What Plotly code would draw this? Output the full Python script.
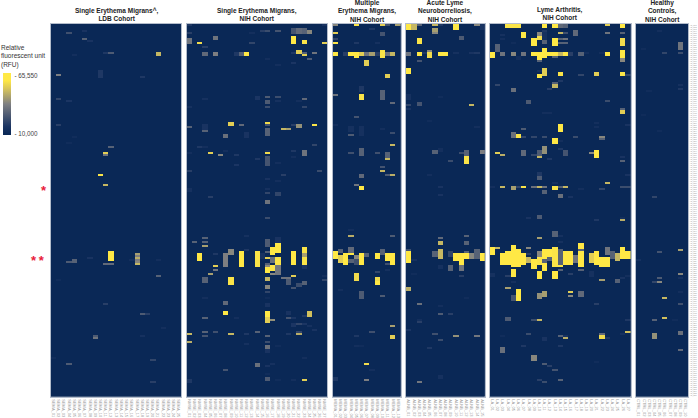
import numpy as np
import plotly.graph_objects as go

W, H = 698, 418
N_ROWS = 186
ROW_LABELS = [f"Ag_{i+1:03d}" for i in range(N_ROWS)]

# each mark: (sample column, first antigen row, last antigen row, RFU)
SEMA_LDB = [
(3,4,4,25000),(6,3,3,16000),(6,7,7,30000),(7,8,8,16000),(4,15,15,14000),(10,14,14,18000),(11,14,14,28000),
(20,14,15,50000),(1,25,25,38000),(9,23,26,18000),(17,26,26,18000),(1,37,37,22000),(3,38,38,17000),(1,50,50,20000),
(4,56,56,13000),(3,59,59,13000),(11,61,61,30000),(10,64,64,55000),(10,65,65,35000),(9,75,75,60000),(10,80,80,50000),
(16,114,114,45000),(16,115,115,38000),(16,116,116,48000),(16,117,117,38000),(16,118,118,40000),(16,119,119,50000),
(11,113,117,64000),(10,119,119,32000),(11,119,119,32000),(4,117,118,30000),(3,118,118,28000),(7,116,116,16000),
(15,117,117,14000),(20,117,117,14000),(20,125,125,30000),(1,127,127,13000),(10,139,139,20000),(17,144,144,28000),(18,144,144,20000),
(8,155,155,28000),(8,156,156,35000),(17,155,155,15000),(21,151,151,14000),(0,166,166,13000),(3,169,169,28000),
(19,167,167,22000),(19,178,178,20000),
]
NMSE = [
(0,0,0,18000),(26,0,0,16000),(0,4,4,20000),(0,7,9,35000),(2,9,9,58000),(5,6,7,35000),(3,11,11,20000),(3,14,15,32000),
(5,14,15,38000),(9,14,15,18000),(10,14,15,30000),(11,14,15,62000),(12,9,9,22000),(12,4,4,14000),(14,3,3,20000),(15,3,3,24000),
(17,3,3,26000),(20,2,4,26000),(21,2,4,32000),(22,2,4,30000),(23,3,4,40000),(20,6,9,62000),(22,8,9,60000),(26,9,9,55000),
(20,14,14,18000),(21,13,14,55000),(22,15,15,55000),(22,14,14,30000),(24,14,14,35000),(23,17,17,28000),(20,19,19,17000),
(15,17,17,14000),(17,20,20,14000),(0,41,41,15000),(3,37,37,15000),(13,36,37,17000),(15,36,36,28000),(15,38,39,28000),
(15,41,41,24000),(17,36,36,24000),(17,38,38,15000),(22,37,37,32000),(22,41,41,22000),(21,38,38,14000),(0,51,51,30000),
(3,50,52,16000),(3,53,53,30000),(8,49,50,55000),(10,50,50,32000),(15,49,49,58000),(15,50,50,26000),(15,52,55,30000),
(18,52,52,50000),(19,52,52,45000),(20,50,50,20000),(21,50,51,42000),(24,50,50,60000),(7,55,56,34000),(11,54,56,16000),
(2,61,61,18000),(3,61,61,14000),(0,64,64,14000),(4,64,64,55000),(6,65,65,40000),(7,63,63,14000),(9,65,65,18000),(9,70,70,17000),
(13,67,67,18000),(15,63,63,15000),(15,64,64,58000),(15,66,70,26000),(17,69,69,14000),(20,63,63,18000),(20,66,66,14000),
(22,63,65,35000),(24,60,60,22000),(18,75,75,20000),(25,73,73,24000),(0,73,73,20000),(0,82,83,15000),(4,86,86,20000),
(15,77,77,16000),(15,82,82,15000),(15,84,84,22000),(15,88,89,35000),(15,96,96,24000),(17,78,78,14000),(17,84,85,22000),
(11,105,105,15000),(1,108,108,30000),(3,106,106,30000),(3,108,108,30000),(3,110,110,45000),(2,114,117,62000),(5,114,114,18000),
(5,120,120,55000),(5,122,122,35000),(4,124,124,45000),(3,126,128,30000),(7,114,120,38000),(8,112,114,40000),(8,126,129,60000),
(10,113,120,63000),(11,112,112,18000),(13,113,120,60000),(14,114,116,16000),(15,107,110,28000),(15,113,113,30000),(15,116,116,55000),
(15,119,119,30000),(15,120,120,40000),(15,121,123,62000),(15,126,127,50000),(15,130,131,40000),(15,133,133,22000),(15,143,145,62000),
(15,146,148,55000),(16,111,114,62000),(16,116,118,34000),(16,120,122,60000),(16,124,124,40000),(16,147,147,42000),(17,106,108,16000),
(17,109,113,62000),(17,116,119,60000),(17,120,124,36000),(18,126,126,35000),(19,126,126,35000),(19,127,129,28000),(20,113,119,62000),
(20,125,125,55000),(20,131,131,26000),(21,129,130,24000),(22,128,129,30000),(22,111,113,60000),(22,114,115,45000),(22,116,119,60000),
(22,120,121,16000),(26,127,127,22000),(26,125,125,14000),(7,138,139,32000),(7,143,144,62000),(3,136,136,14000),(23,143,145,52000),
(22,145,145,18000),(19,143,144,16000),(15,136,136,13000),(15,139,140,16000),(19,146,146,26000),(20,146,146,17000),(3,146,146,30000),
(9,146,146,14000),(20,149,150,17000),(21,149,149,22000),(22,149,149,17000),(23,150,150,15000),(0,154,154,50000),(0,158,158,48000),
(3,153,153,30000),(3,155,155,26000),(5,153,153,25000),(8,154,154,50000),(11,154,154,18000),(13,153,153,30000),(15,155,155,30000),
(15,158,158,24000),(15,160,161,34000),(15,162,163,16000),(19,154,154,18000),(21,154,154,48000),(21,153,153,22000),(24,152,152,16000),
(11,159,159,15000),(17,160,160,13000),(13,169,170,34000),(15,170,170,16000),(16,169,169,15000),(7,172,172,26000),(15,174,174,13000),
(15,176,177,28000),(0,177,178,18000),(22,177,177,55000),(20,177,177,14000),(17,177,177,13000),(22,166,166,14000),
]
MEMA = [
(4,0,0,60000),(0,0,0,40000),(0,4,4,55000),(0,7,7,22000),(0,9,9,60000),(0,14,15,62000),(0,35,35,35000),(0,50,50,14000),
(9,0,0,55000),(12,0,0,45000),(10,0,0,25000),(7,2,2,18000),(9,4,5,26000),(4,9,9,18000),(8,9,9,15000),(3,14,15,63000),(4,14,16,63000),
(5,14,15,55000),(6,14,15,35000),(7,14,15,45000),(8,14,15,20000),(9,13,16,60000),(10,14,15,35000),(11,14,15,50000),(2,14,15,20000),
(6,18,20,55000),(10,25,26,55000),(5,31,33,18000),(5,35,37,60000),(9,33,37,30000),(11,39,39,32000),(4,46,46,26000),(3,51,53,15000),
(3,55,55,28000),(5,51,55,15000),(9,52,52,14000),(11,54,54,24000),(11,60,60,50000),(3,64,64,25000),(5,62,65,30000),(8,64,64,25000),
(10,64,66,30000),(10,67,67,50000),(9,71,71,26000),(9,73,73,50000),(10,75,75,28000),(11,75,75,48000),(5,75,76,32000),(4,80,80,35000),
(5,81,82,62000),(3,102,102,14000),(3,105,105,48000),(11,105,105,28000),(0,113,116,62000),(1,112,113,30000),(1,115,118,55000),
(2,114,119,62000),(3,111,113,32000),(3,114,114,62000),(3,117,118,30000),(4,115,116,40000),(4,117,119,25000),(5,114,119,63000),
(6,114,115,30000),(8,114,116,62000),(9,112,114,30000),(10,114,117,62000),(10,119,119,25000),(10,122,122,15000),(11,114,119,62000),
(4,124,127,58000),(8,126,127,58000),(8,128,129,62000),(8,123,123,22000),(5,133,136,28000),(9,135,135,28000),(1,132,132,14000),
(11,150,150,45000),(11,155,156,55000),(7,153,153,25000),(4,155,155,18000),(4,160,160,14000),(5,160,160,13000),(6,169,169,58000),
(7,172,172,14000),(6,177,177,38000),(0,176,177,18000),
]
ALNB = [
(0,0,2,62000),(1,0,2,50000),(2,0,0,30000),(5,0,0,50000),(5,2,3,45000),(5,4,4,40000),(9,0,2,62000),(10,6,7,28000),(13,0,0,40000),
(14,0,2,16000),(6,0,0,18000),(2,7,9,60000),(0,14,15,35000),(2,14,15,62000),(2,18,18,26000),(4,14,16,58000),(4,13,13,40000),(3,14,14,18000),
(6,14,15,62000),(7,14,15,62000),(9,14,14,15000),(12,14,14,16000),(13,14,14,18000),(0,22,24,62000),(0,35,37,15000),(0,40,40,22000),
(0,42,42,16000),(2,39,40,26000),(6,36,36,13000),(12,40,40,50000),(4,48,48,13000),(13,51,51,14000),(5,63,64,30000),(6,62,63,14000),
(8,68,68,24000),(11,63,65,30000),(11,66,69,60000),(10,64,64,24000),(14,63,64,38000),(4,75,75,14000),(6,81,81,16000),(6,85,85,16000),
(6,106,106,32000),(6,108,109,50000),(11,105,105,30000),(11,108,109,30000),(0,113,118,62000),(0,112,112,25000),(1,117,117,15000),
(5,113,115,30000),(6,112,116,50000),(8,113,115,22000),(8,120,122,30000),(9,114,117,62000),(10,114,119,62000),(10,120,122,35000),
(11,114,116,62000),(11,113,113,30000),(12,114,116,40000),(13,112,116,30000),(14,114,117,62000),(10,125,125,20000),(6,120,121,15000),
(1,124,124,13000),(0,131,132,48000),(2,139,139,34000),(6,140,140,14000),(6,144,144,28000),(8,144,144,20000),(11,136,136,13000),
(2,147,147,14000),(2,148,148,20000),(0,152,152,17000),(5,154,154,25000),(6,157,157,24000),(9,155,155,42000),(13,155,155,36000),
(4,161,161,18000),(6,175,176,15000),(2,178,178,36000),
]
LA = [
(3,0,1,60000),(4,0,1,60000),(5,0,1,60000),(10,0,1,62000),(12,0,1,62000),(13,0,1,32000),(14,0,1,30000),(22,0,0,55000),(25,0,1,62000),
(6,4,6,62000),(9,4,5,40000),(9,6,7,58000),(10,3,3,18000),(10,4,7,15000),(13,4,4,50000),(13,7,7,30000),(13,9,9,30000),(14,4,4,25000),
(14,7,7,35000),(14,9,9,30000),(16,3,5,32000),(2,5,5,15000),(2,7,7,14000),(1,10,12,30000),(8,7,10,62000),(12,7,10,62000),(10,8,9,30000),
(22,4,4,35000),(25,4,4,30000),(25,7,10,58000),(4,9,9,13000),(0,14,16,62000),(2,14,15,35000),(4,14,15,40000),(6,14,15,35000),
(8,14,15,62000),(9,14,17,62000),(9,18,18,30000),(10,12,16,62000),(11,14,15,62000),(12,14,15,62000),(12,16,16,30000),(13,14,15,50000),
(14,14,15,62000),(15,14,15,20000),(17,14,15,30000),(18,14,14,14000),(22,14,15,62000),(25,13,16,62000),(25,17,18,40000),(21,14,14,14000),
(1,13,13,30000),(5,16,17,14000),(9,23,23,15000),(9,25,26,62000),(10,22,25,55000),(13,24,25,60000),(17,25,25,22000),(20,24,25,55000),
(25,24,25,60000),(26,25,25,22000),(12,29,29,30000),(12,30,31,50000),(13,28,28,18000),(11,32,32,20000),(1,30,30,22000),(4,32,33,34000),
(7,38,39,28000),(22,38,38,24000),(25,42,42,30000),(25,43,44,55000),(10,44,44,14000),(11,44,44,14000),(13,50,53,62000),(20,49,49,14000),
(20,51,51,14000),(26,50,50,16000),(6,52,52,28000),(4,54,56,34000),(5,55,56,60000),(6,56,56,22000),(8,56,56,22000),(10,56,56,24000),
(12,57,59,62000),(13,58,58,14000),(16,56,56,24000),(21,56,56,40000),(21,57,57,30000),(1,64,64,55000),(2,65,65,48000),(6,63,65,32000),
(8,65,65,22000),(9,63,65,28000),(9,66,66,50000),(10,61,64,42000),(11,67,67,18000),(13,62,62,18000),(14,63,65,26000),(19,64,64,40000),
(20,63,66,62000),(25,66,66,16000),(25,68,68,30000),(26,75,75,16000),(9,74,75,18000),(9,76,77,28000),(0,81,81,14000),(2,81,81,50000),
(4,81,82,45000),(5,81,81,22000),(6,81,81,60000),(8,81,81,34000),(9,81,81,50000),(10,81,81,35000),(10,83,84,30000),(12,81,82,60000),
(13,81,81,30000),(14,81,81,50000),(12,79,79,15000),(13,85,86,34000),(15,86,86,16000),(17,82,82,14000),(21,82,82,22000),(22,79,79,50000),
(25,81,81,24000),(26,81,81,24000),(7,96,96,16000),(9,95,96,28000),(20,97,97,18000),(25,97,97,48000),(25,96,96,14000),(12,103,105,30000),
(9,106,106,45000),(13,105,105,15000),(0,111,114,62000),(1,111,111,50000),(2,114,119,62000),(3,113,119,62000),(4,110,120,62000),
(5,112,120,62000),(6,114,119,62000),(7,111,111,40000),(7,114,114,20000),(7,116,118,50000),(8,117,121,62000),(9,113,115,40000),
(9,116,119,60000),(10,112,116,62000),(10,117,118,30000),(11,112,115,62000),(11,116,117,30000),(12,111,120,60000),(13,108,108,15000),
(13,112,119,30000),(13,120,120,60000),(13,122,122,30000),(14,113,119,62000),(15,113,119,62000),(16,115,118,35000),(17,109,111,62000),
(17,112,112,30000),(17,113,120,62000),(17,122,122,30000),(19,114,118,55000),(20,113,119,62000),(21,116,120,62000),(22,111,114,35000),
(22,116,120,62000),(23,113,116,30000),(24,114,117,50000),(25,111,116,62000),(26,113,116,62000),(4,122,125,62000),(3,125,125,20000),
(9,123,126,62000),(10,119,122,62000),(12,123,126,62000),(4,128,128,15000),(3,131,131,45000),(5,132,137,62000),(4,135,137,26000),
(10,133,135,45000),(9,134,136,42000),(15,133,133,55000),(15,135,135,40000),(17,133,135,32000),(21,127,127,45000),(24,127,128,30000),
(25,126,126,16000),(26,125,125,14000),(20,139,139,20000),(15,124,124,20000),(0,124,125,15000),(19,123,125,15000),(3,146,147,28000),
(8,147,147,24000),(9,147,147,50000),(26,147,147,18000),(7,154,154,24000),(13,155,155,30000),(14,155,155,16000),(14,156,156,48000),
(10,156,157,16000),(21,154,154,32000),(21,155,156,58000),(22,156,156,18000),(26,153,153,52000),(25,154,154,15000),(2,161,163,34000),
(6,160,160,18000),(13,160,160,18000),(8,165,167,40000),(10,169,169,28000),(11,170,170,20000),(12,172,172,26000),(9,177,177,20000),
(10,178,178,24000),(13,177,177,30000),(2,155,155,13000),(20,168,168,13000),
]
CTRL = [
(4,3,3,14000),(8,9,12,35000),(8,14,14,24000),(1,12,12,13000),(5,14,14,22000),(8,30,30,15000),(8,32,32,18000),(2,33,33,13000),
(1,45,45,12500),(4,53,53,13000),(3,86,86,22000),(4,113,113,26000),(8,112,112,45000),(0,117,117,15000),(8,124,124,40000),(8,126,126,15000),
(4,126,126,28000),(3,128,128,22000),(4,128,128,40000),(5,136,136,50000),(8,133,133,14000),(8,139,139,25000),(3,147,147,30000),
(5,146,146,52000),(7,147,147,13000),(3,154,156,42000),(8,153,154,34000),(8,162,162,32000),
]

PREFIXES = ["SEMA", "NMSE", "MEMA", "ALNB", "LA", "CTRL"]
COUNTS = [25, 27, 13, 15, 27, 10]
PANEL_MARKS = [SEMA_LDB, NMSE, MEMA, ALNB, LA, CTRL]
PANEL_PX = [(50.7, 181.3), (186.7, 327.3), (332.7, 400.7), (406, 484.7), (489.7, 630.7), (636, 688.3)]
TOP_PX, BOTTOM_PX = 24, 396.5
TITLES = ["Single Erythema Migrans^,<br>LDB Cohort", "Single Erythema Migrans,<br>NIH Cohort",
          "Multiple<br>Erythema Migrans,<br>NIH Cohort", "Acute Lyme<br>Neuroborreliosis,<br>NIH Cohort",
          "Lyme Arthritis,<br>NIH Cohort", "Healthy<br>Controls,<br>NIH Cohort"]
TITLE_BOTTOM = [23, 23, 23.5, 23.5, 22, 23.5]
TICK_RFU = [10000, 65550]
TICK_RFU_TEXT = ["\u00a0- 10,000", "\u00a0- 65,550"]

fig = go.Figure()
for i, (pre, n, marks, (x0, x1)) in enumerate(zip(PREFIXES, COUNTS, PANEL_MARKS, PANEL_PX)):
    z = np.full((N_ROWS, n), 10000.0)
    for c, r0, r1, v in marks:
        z[r0:r1 + 1, c] = v
    cols = [f"{pre}_{k+1:02d}" for k in range(n)]
    sfx = "" if i == 0 else str(i + 1)
    fig.add_trace(go.Heatmap(z=z, x=cols, y=ROW_LABELS, coloraxis="coloraxis", xaxis="x" + sfx, yaxis="y" + sfx,
                             xgap=0, ygap=0))
    last = i == len(PREFIXES) - 1
    fig.layout["xaxis" + sfx] = dict(domain=[x0 / W, x1 / W], anchor="y" + sfx, type="category", tickmode="array", tickvals=cols,
                                     ticktext=cols, tickangle=90, tickfont=dict(size=4, color="#9a9a9a", family="Liberation Sans"),
                                     ticks="", showline=True, mirror=True, linecolor="#b3bccb", linewidth=1, showgrid=False,
                                     zeroline=False, ticklabelstandoff=1)
    fig.layout["yaxis" + sfx] = dict(domain=[1 - BOTTOM_PX / H, 1 - TOP_PX / H], anchor="x" + sfx, type="category",
                                     autorange="reversed", side="right", showline=True, mirror=True, linecolor="#b3bccb", linewidth=1,
                                     showgrid=False, zeroline=False, ticks="",
                                     showticklabels=last, tickmode="array", tickvals=ROW_LABELS, ticktext=ROW_LABELS,
                                     tickfont=dict(size=2, color="#8d8d8d", family="Liberation Sans"))
    fig.add_annotation(x=(x0 + x1) / 2 / W, y=1 - TITLE_BOTTOM[i] / H, xref="paper", yref="paper", xanchor="center", yanchor="bottom",
                       text=f"<b>{TITLES[i]}</b>", showarrow=False, borderpad=0, align="center",
                       font=dict(size=6.5, color="#222222", family="Liberation Sans"))

fig.add_annotation(x=0, y=1 - 43 / H, xref="paper", yref="paper", xanchor="left", yanchor="top", showarrow=False, align="left", borderpad=0,
                   text="Relative<br>fluorescent unit<br>(RFU)", font=dict(size=6.5, color="#333333", family="Liberation Sans"))
fig.add_annotation(x=44 / W, y=1 - 190 / H, xref="paper", yref="paper", xanchor="center", showarrow=False, borderpad=0, text="<b>*</b>",
                   font=dict(size=13, color="#e8203a", family="Liberation Sans"))
fig.add_annotation(x=38 / W, y=1 - 260 / H, xref="paper", yref="paper", xanchor="center", showarrow=False, borderpad=0, text="<b>*\u2009*</b>",
                   font=dict(size=13, color="#e8203a", family="Liberation Sans"))

fig.update_layout(
    width=W, height=H, autosize=False, margin=dict(l=0, r=0, t=0, b=0), paper_bgcolor="white", plot_bgcolor="#0a2856",
    showlegend=False,
    coloraxis=dict(cmin=9000, cmax=68000,
                   colorscale=[[0, "#0a2856"], [0.02, "#0a2856"], [0.14, "#1c3563"], [0.5, "#7f8082"], [0.75, "#d9c65a"], [0.88, "#ffe845"], [1, "#ffe945"]],
                   colorbar=dict(x=2.5 / W, xanchor="left", y=1 - 73 / H, yanchor="top", len=62, lenmode="pixels", thickness=7.5,
                                 thicknessmode="pixels", xpad=0, ypad=0, outlinewidth=0, tickmode="array", tickvals=TICK_RFU,
                                 ticktext=TICK_RFU_TEXT, ticks="",
                                 tickfont=dict(size=6.3, color="#444444", family="Liberation Sans"))))

fig.write_html("out.html", config={"displayModeBar": False},
               post_script="document.body.style.margin='0';document.querySelectorAll('.hm image').forEach(function(e){e.style.filter='blur(0.45px)';});")
